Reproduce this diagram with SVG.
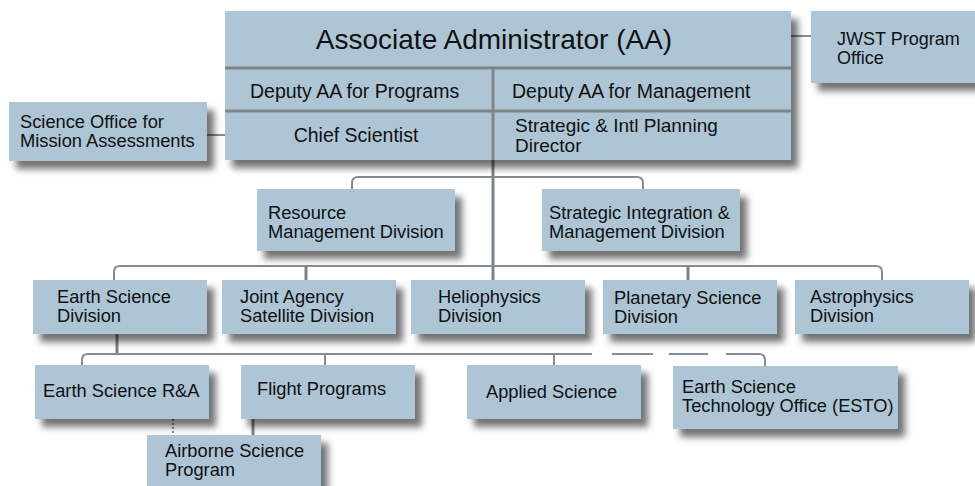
<svg xmlns="http://www.w3.org/2000/svg" width="975" height="486" viewBox="0 0 975 486">
<defs>
<filter id="sh" x="-10%" y="-20%" width="130%" height="160%">
<feDropShadow dx="7" dy="8" stdDeviation="3.5" flood-color="#000" flood-opacity="0.55"/>
</filter>
</defs>
<style>
.box{fill:#adc5d5;filter:url(#sh)}
.t{font-family:"Liberation Sans",Arial,Helvetica,sans-serif;font-size:18.3px;fill:#111}
.tb{font-family:"Liberation Sans",Arial,Helvetica,sans-serif;font-size:19.5px;fill:#111}
.big{font-family:"Liberation Sans",Arial,Helvetica,sans-serif;font-size:28px;fill:#111}
.c{fill:none;stroke:#858d93;stroke-width:2}
.ct{fill:none;stroke:#7a8288;stroke-width:3}
.div{stroke:#7f8589;stroke-width:3}
</style>
<g id="connectors">
<line class="c" x1="207" y1="135" x2="225" y2="135"/>
<line class="c" x1="791" y1="36" x2="811" y2="36"/>
<line class="ct" x1="493" y1="160" x2="493" y2="280"/>
<path class="c" d="M352,189 V183 Q352,177 358,177 H637 Q643,177 643,183 V189"/>
<path class="c" d="M114,280 V272 Q114,266 120,266 H876 Q882,266 882,272 V280"/>
<line class="ct" x1="306" y1="266" x2="306" y2="280"/>
<line class="ct" x1="688" y1="266" x2="688" y2="280"/>
<line class="ct" x1="117" y1="334" x2="117" y2="354"/>
<path class="c" d="M82,365 V360 Q82,354 88,354 H592"/>
<line class="c" x1="612" y1="354" x2="653" y2="354"/>
<line class="c" x1="669" y1="354" x2="708" y2="354"/>
<path class="c" d="M726,354 H759 Q765,354 765,360 V366"/>
<line class="c" x1="325" y1="354" x2="325" y2="365"/>
<line class="c" x1="554" y1="354" x2="554" y2="365"/>
<line class="c" x1="173" y1="419" x2="173" y2="435" stroke-dasharray="2,2"/>
<line class="ct" x1="253" y1="419" x2="253" y2="435"/>
</g>
<g id="aa">
<rect class="box" x="225" y="11" width="566" height="149"/>
<line class="div" x1="225" y1="68" x2="791" y2="68"/>
<line class="div" x1="225" y1="111" x2="791" y2="111"/>
<line class="div" x1="493" y1="68" x2="493" y2="160"/>
<text class="big" x="494" y="49" text-anchor="middle">Associate Administrator (AA)</text>
<text class="tb" x="250" y="98">Deputy AA for Programs</text>
<text class="tb" x="512" y="98">Deputy AA for Management</text>
<text class="tb" x="356" y="142" text-anchor="middle">Chief Scientist</text>
<text class="tb" x="515" y="132" style="font-size:19px">Strategic &amp; Intl Planning</text>
<text class="tb" x="515" y="152" style="font-size:19px">Director</text>
</g>
<g id="jwst">
<rect class="box" x="811" y="11" width="175" height="72"/>
<text class="t" x="837" y="45" style="font-size:18px">JWST Program</text>
<text class="t" x="837" y="64" style="font-size:18px">Office</text>
</g>
<g id="soma">
<rect class="box" x="9" y="102" width="198" height="59"/>
<text class="t" x="20" y="128">Science Office for</text>
<text class="t" x="20" y="147">Mission Assessments</text>
</g>
<g id="rmd">
<rect class="box" x="257" y="189" width="198" height="62"/>
<text class="t" x="268" y="219">Resource</text>
<text class="t" x="268" y="238">Management Division</text>
</g>
<g id="simd">
<rect class="box" x="542" y="189" width="198" height="62"/>
<text class="t" x="549" y="219">Strategic Integration &amp;</text>
<text class="t" x="549" y="238">Management Division</text>
</g>
<g id="esd">
<rect class="box" x="33" y="280" width="174" height="54"/>
<text class="t" x="57" y="303">Earth Science</text>
<text class="t" x="57" y="322">Division</text>
</g>
<g id="jasd">
<rect class="box" x="222" y="280" width="174" height="54"/>
<text class="t" x="240" y="303">Joint Agency</text>
<text class="t" x="240" y="322">Satellite Division</text>
</g>
<g id="hd">
<rect class="box" x="411" y="280" width="174" height="54"/>
<text class="t" x="438" y="303">Heliophysics</text>
<text class="t" x="438" y="322">Division</text>
</g>
<g id="psd">
<rect class="box" x="603" y="280" width="174" height="54"/>
<text class="t" x="614" y="304">Planetary Science</text>
<text class="t" x="614" y="323">Division</text>
</g>
<g id="apd">
<rect class="box" x="795" y="280" width="174" height="54"/>
<text class="t" x="810" y="303">Astrophysics</text>
<text class="t" x="810" y="322">Division</text>
</g>
<g id="esra">
<rect class="box" x="35" y="365" width="174" height="54"/>
<text class="t" x="43" y="397">Earth Science R&amp;A</text>
</g>
<g id="fp">
<rect class="box" x="241" y="365" width="174" height="54"/>
<text class="t" x="257" y="395">Flight Programs</text>
</g>
<g id="as">
<rect class="box" x="467" y="365" width="174" height="54"/>
<text class="t" x="486" y="398">Applied Science</text>
</g>
<g id="esto">
<rect class="box" x="673" y="366" width="225" height="63"/>
<text class="t" x="682" y="393">Earth Science</text>
<text class="t" x="682" y="412">Technology Office (ESTO)</text>
</g>
<g id="asp">
<rect class="box" x="147" y="435" width="174" height="60"/>
<text class="t" x="165" y="457">Airborne Science</text>
<text class="t" x="165" y="476">Program</text>
</g>
</svg>
